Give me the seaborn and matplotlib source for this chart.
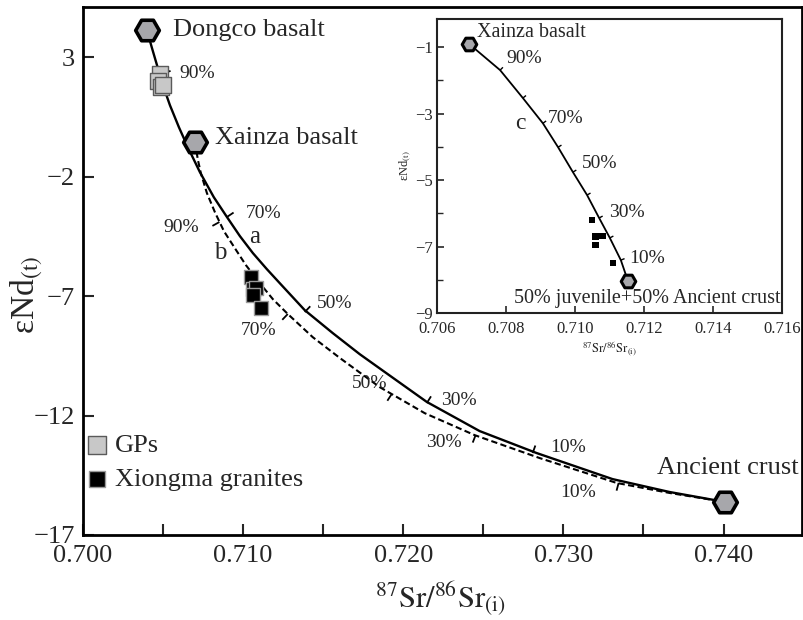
import numpy as np
import pandas as pd
import matplotlib
matplotlib.use("Agg")
import matplotlib.pyplot as plt
import seaborn as sns
from matplotlib.ticker import FixedLocator, MultipleLocator, FormatStrFormatter

# ---------------- data ----------------
endmember_names = ["Dongco basalt", "Xainza basalt", "Ancient crust"]
endmember_sr = [0.70399, 0.70699, 0.74012]
endmember_nd = [4.13, -0.56, -15.62]

gps_sr = [0.7048, 0.7047, 0.7049, 0.7050]
gps_nd = [2.30, 2.00, 1.75, 1.85]

xiongma_sr = [0.7105, 0.7106, 0.7108, 0.7106, 0.7111]
xiongma_nd = [-6.20, -6.70, -6.68, -6.95, -7.50]

# curve a : Dongco basalt -> Ancient crust (solid)
curve_a_sr = [0.70399, 0.70431, 0.70462, 0.70499, 0.70543, 0.70599, 0.70655, 0.70730,
              0.70817, 0.70899, 0.70980, 0.71061, 0.71148, 0.71229, 0.71385, 0.71560,
              0.71728, 0.71885, 0.72147, 0.72477, 0.72833, 0.73307, 0.73663, 0.74012]
curve_a_nd = [4.13, 3.38, 2.67, 1.83, 0.99, 0.07, -0.77, -1.81,
              -2.86, -3.69, -4.49, -5.20, -5.87, -6.46, -7.59, -8.55,
              -9.43, -10.18, -11.43, -12.65, -13.57, -14.66, -15.20, -15.62]

# curve b : Xainza basalt -> Ancient crust (dashed)
curve_b_sr = [0.70699, 0.70718, 0.70736, 0.70774, 0.70824, 0.70880, 0.70948, 0.71017,
              0.71098, 0.71186, 0.71279, 0.71435, 0.71604, 0.71853, 0.72134, 0.72446,
              0.72852, 0.73332, 0.73663, 0.74012]
curve_b_nd = [-0.56, -1.31, -1.85, -2.69, -3.49, -4.28, -4.99, -5.70,
              -6.41, -7.13, -7.75, -8.72, -9.59, -10.81, -11.90, -12.82,
              -13.78, -14.82, -15.24, -15.62]

tick_a_labels = ["90%", "70%", "50%", "30%", "10%"]
tick_a_sr = [0.70499, 0.70899, 0.71385, 0.72147, 0.72808]
tick_a_nd = [2.33, -3.69, -7.67, -11.48, -13.57]

tick_b_labels = ["90%", "70%", "50%", "30%", "10%"]
tick_b_sr = [0.70852, 0.71279, 0.71928, 0.72452, 0.73345]
tick_b_nd = [-3.90, -7.75, -11.10, -12.82, -14.82]

# inset: Xainza basalt -> 50% juvenile + 50% ancient crust
inset_em_names = ["Xainza basalt", "50% juvenile+50% Ancient crust"]
inset_em_sr = [0.70693, 0.71154]
inset_em_nd = [-0.90, -8.05]

curve_c_frac = [100, 90, 80, 70, 60, 50, 40, 30, 20, 10, 0]
curve_c_sr = [0.70693, 0.70783, 0.70849, 0.70907, 0.70951, 0.70994,
              0.71035, 0.71070, 0.71101, 0.71133, 0.71154]
curve_c_nd = [-0.90, -1.69, -2.53, -3.29, -4.01, -4.76,
              -5.45, -6.14, -6.74, -7.41, -8.05]
curve_c_labelled = [90, 70, 50, 30, 10]

main_xticks = [0.700, 0.710, 0.720, 0.730, 0.740]
main_yticks = [3, -2, -7, -12, -17]
inset_xticks = [0.706, 0.708, 0.710, 0.712, 0.714, 0.716]
inset_yticks = [-1, -3, -5, -7, -9]

# ---------------- style ----------------
sns.set_style("ticks")
plt.rcParams["font.family"] = ["Liberation Serif", "DejaVu Serif"]
plt.rcParams["mathtext.fontset"] = "stix"
plt.rcParams["axes.unicode_minus"] = True

HEX_FACE = "#a7a7ab"
PX = 0.72  # points per pixel at dpi 100

fig = plt.figure(figsize=(8.04, 6.2), dpi=100)
ax = fig.add_axes([0.1032, 0.1371, 0.8943, 0.8516])
ax.set_xlim(0.700, 0.7449)
ax.set_ylim(-17, 5.1)

df_a = pd.DataFrame({"sr": curve_a_sr, "nd": curve_a_nd})
df_b = pd.DataFrame({"sr": curve_b_sr, "nd": curve_b_nd})
sns.lineplot(data=df_a, x="sr", y="nd", sort=False, estimator=None, ax=ax,
             color="black", lw=1.7, zorder=2)
sns.lineplot(data=df_b, x="sr", y="nd", sort=False, estimator=None, ax=ax,
             color="black", lw=1.5, linestyle=(0, (3, 1.6)), zorder=2)

df_gps = pd.DataFrame({"sr": gps_sr, "nd": gps_nd})
df_xm = pd.DataFrame({"sr": xiongma_sr, "nd": xiongma_nd})
sns.scatterplot(data=df_gps, x="sr", y="nd", ax=ax, marker="s", s=120,
                color="#c8c8c8", edgecolor="#5a5a5a", linewidth=1.0, label="GPs", zorder=4)
sns.scatterplot(data=df_xm, x="sr", y="nd", ax=ax, marker="s", s=110,
                color="black", edgecolor="#9a9a9a", linewidth=1.0,
                label="Xiongma granites", zorder=4)

df_em = pd.DataFrame({"sr": endmember_sr, "nd": endmember_nd})
sns.scatterplot(data=df_em, x="sr", y="nd", ax=ax, marker="H", s=290,
                color=HEX_FACE, edgecolor="black", linewidth=2.6, zorder=5, legend=False)

em_offsets = [(26, 0), (20, 4), (-68, 34)]
for name, x, y, (ox, oy) in zip(endmember_names, endmember_sr, endmember_nd, em_offsets):
    ax.annotate(name, xy=(x, y), xytext=(ox * PX, oy * PX), textcoords="offset points",
                ha="left", va="center", fontsize=19)


def draw_ticks(a, xs, ys, tx, ty, offs, length, lw):
    pts = a.transData.transform(np.column_stack([xs, ys]))
    for x0, y0, (ox, oy) in zip(tx, ty, offs):
        p = a.transData.transform((x0, y0))
        i = int(np.argmin(np.hypot(*(pts - p).T)))
        i0, i1 = max(i - 1, 0), min(i + 1, len(pts) - 1)
        t = pts[i1] - pts[i0]
        t = t / np.hypot(*t)
        n = np.array([-t[1], t[0]])
        if n @ np.array([ox, oy]) < 0:
            n = -n
        q = a.transData.inverted().transform([p, p + n * length])
        a.plot(q[:, 0], q[:, 1], color="black", lw=lw, solid_capstyle="butt", zorder=3)


lab_a_off = [(34, 0), (37, 4), (30, 9), (32, 3), (35, 6)]
lab_b_off = [(-38, -5), (-29, -16), (-22, 11), (-32, -7), (-41, -10)]
draw_ticks(ax, curve_a_sr, curve_a_nd, tick_a_sr, tick_a_nd, lab_a_off, 8, 1.3)
draw_ticks(ax, curve_b_sr, curve_b_nd, tick_b_sr, tick_b_nd, lab_b_off, 8, 1.3)
for lab, x, y, (ox, oy) in zip(tick_a_labels, tick_a_sr, tick_a_nd, lab_a_off):
    ax.annotate(lab, xy=(x, y), xytext=(ox * PX, oy * PX), textcoords="offset points",
                ha="center", va="center", fontsize=14)
for lab, x, y, (ox, oy) in zip(tick_b_labels, tick_b_sr, tick_b_nd, lab_b_off):
    ax.annotate(lab, xy=(x, y), xytext=(ox * PX, oy * PX), textcoords="offset points",
                ha="center", va="center", fontsize=14)

ax.text(0.71073, -4.53, "a", fontsize=18, ha="center", va="center")
ax.text(0.70855, -5.20, "b", fontsize=18, ha="center", va="center")

ax.xaxis.set_major_locator(FixedLocator(main_xticks))
ax.xaxis.set_minor_locator(MultipleLocator(0.005))
ax.xaxis.set_major_formatter(FormatStrFormatter("%.3f"))
ax.yaxis.set_major_locator(FixedLocator(main_yticks))
ax.tick_params(axis="both", which="both", direction="in", length=8, width=1.5,
               labelsize=19, top=False, right=False)
ax.tick_params(axis="x", which="minor", length=8, width=1.5)
ax.tick_params(axis="x", pad=7)
ax.tick_params(axis="y", pad=6)
for s in ax.spines.values():
    s.set_linewidth(2.0)
    s.set_color("black")

ax.set_xlabel(r"$^{87}\mathrm{Sr}/^{86}\mathrm{Sr}_{\mathrm{(i)}}$", fontsize=22)
ax.set_ylabel(r"εNd$_{\mathrm{(t)}}$", fontsize=24)
ax.xaxis.set_label_coords(0.497, -0.085)
ax.yaxis.set_label_coords(-0.053, 0.455)

ax.legend(loc="lower left", bbox_to_anchor=(0.006, 0.083), frameon=False, fontsize=19,
          handlelength=0.7, handletextpad=0.35, labelspacing=0.42, borderpad=0,
          borderaxespad=0, markerscale=1.15)

# ---------------- inset ----------------
axin = fig.add_axes([0.5435, 0.4952, 0.4291, 0.4742])
axin.set_facecolor("white")
axin.set_xlim(0.706, 0.716)
axin.set_ylim(-9, -0.15)

df_c = pd.DataFrame({"sr": curve_c_sr, "nd": curve_c_nd})
sns.lineplot(data=df_c, x="sr", y="nd", sort=False, estimator=None, ax=axin,
             color="black", lw=1.3, zorder=2)
sns.scatterplot(data=df_xm, x="sr", y="nd", ax=axin, marker="s", s=22,
                color="black", edgecolor="none", zorder=4, legend=False)
df_iem = pd.DataFrame({"sr": inset_em_sr, "nd": inset_em_nd})
sns.scatterplot(data=df_iem, x="sr", y="nd", ax=axin, marker="H", s=110,
                color=HEX_FACE, edgecolor="black", linewidth=2.2, zorder=5, legend=False)

inner = [i for i, f in enumerate(curve_c_frac) if 0 < f < 100]
draw_ticks(axin, curve_c_sr, curve_c_nd,
           [curve_c_sr[i] for i in inner], [curve_c_nd[i] for i in inner],
           [(1, 0.4)] * len(inner), 4, 1.0)
lab_c_off = {90: (24, 12), 70: (23, 5), 50: (27, 9), 30: (28, 5), 10: (26, 2)}
for f, x, y in zip(curve_c_frac, curve_c_sr, curve_c_nd):
    if f in curve_c_labelled:
        ox, oy = lab_c_off[f]
        axin.annotate(f"{f}%", xy=(x, y), xytext=(ox * PX, oy * PX), textcoords="offset points",
                      ha="center", va="center", fontsize=14)

iem_offsets = [(8, 11, "left"), (19, -17, "center")]
for name, x, y, (ox, oy, ha) in zip(inset_em_names, inset_em_sr, inset_em_nd, iem_offsets):
    axin.annotate(name, xy=(x, y), xytext=(ox * PX, oy * PX), textcoords="offset points",
                  ha=ha, va="center", fontsize=14.5)
axin.text(0.70841, -3.29, "c", fontsize=17, ha="center", va="center")

axin.xaxis.set_major_locator(FixedLocator(inset_xticks))
axin.xaxis.set_major_formatter(FormatStrFormatter("%.3f"))
axin.yaxis.set_major_locator(FixedLocator(inset_yticks))
axin.yaxis.set_minor_locator(MultipleLocator(1))
axin.tick_params(axis="both", which="major", direction="in", length=5, width=1.2,
                 labelsize=12, pad=3)
axin.tick_params(axis="x", which="major", pad=6)
axin.tick_params(axis="both", which="minor", direction="in", length=4, width=1.0)
for s in axin.spines.values():
    s.set_linewidth(1.5)
    s.set_color("#222222")
axin.set_xlabel(r"$^{87}\mathrm{Sr}/^{86}\mathrm{Sr}_{\mathrm{(i)}}$", fontsize=9)
axin.set_ylabel(r"εNd$_{\mathrm{(t)}}$", fontsize=9)
axin.xaxis.set_label_coords(0.5, -0.09)
axin.yaxis.set_label_coords(-0.07, 0.5)

fig.savefig("out.png", dpi=100)
